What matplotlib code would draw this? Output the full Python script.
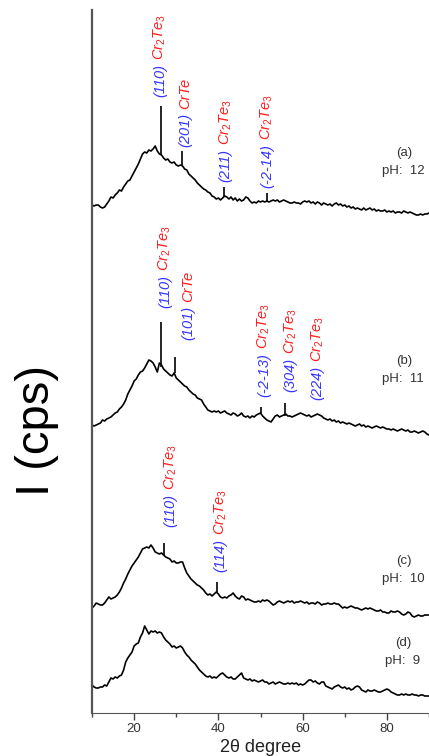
import numpy as np
import matplotlib
matplotlib.use('Agg')
import matplotlib.pyplot as plt
from matplotlib.ticker import MultipleLocator

plt.rcParams['font.family'] = ['Liberation Sans', 'DejaVu Sans']
plt.rcParams['mathtext.fontset'] = 'custom'
plt.rcParams['mathtext.it'] = 'Liberation Sans:italic'
plt.rcParams['mathtext.rm'] = 'Liberation Sans'

# shared 2theta sampling (degrees), 0.5 deg step
two_theta = np.arange(10.0, 90.01, 0.5)

# (a) pH 12
cps_a = [11, 10, 11, 11, 9, 8, 9, 12, 15, 19, 18, 21, 23, 26, 25, 29, 32, 35, 36, 40,
         44, 48, 52, 57, 62, 64, 63, 66, 65, 67, 70, 65, 62, 61, 58, 56, 57, 54, 53, 54,
         51, 50, 51, 50, 47, 46, 42, 40, 38, 36, 33, 31, 29, 27, 26, 24, 23, 20, 19, 17,
         18, 16, 18, 20, 19, 17, 19, 16, 18, 15, 17, 15, 16, 19, 18, 15, 13, 14, 13, 15,
         14, 15, 14, 15, 14, 15, 16, 15, 16, 14, 15, 16, 15, 14, 13, 13, 14, 13, 13, 12,
         14, 15, 14, 15, 13, 14, 12, 14, 13, 11, 13, 12, 11, 12, 10, 12, 13, 11, 12, 10,
         11, 9, 10, 8, 9, 7, 8, 7, 6, 8, 6, 7, 8, 6, 7, 5, 6, 5, 5, 6,
         4, 5, 4, 5, 3, 4, 4, 3, 5, 4, 3, 4, 3, 2, 1, 1, 2, 1, 2, 2, 3]

# (b) pH 11
cps_b = [10, 9, 10, 11, 12, 15, 14, 16, 17, 18, 20, 22, 23, 26, 28, 31, 35, 41, 45, 49,
         54, 56, 60, 63, 64, 67, 71, 75, 74, 72, 68, 63, 72, 70, 66, 64, 62, 60, 59, 62,
         57, 55, 53, 51, 49, 48, 45, 43, 41, 40, 37, 36, 35, 31, 28, 25, 24, 23, 24, 23,
         24, 22, 23, 24, 22, 21, 20, 22, 21, 19, 20, 22, 19, 18, 19, 17, 19, 18, 20, 21,
         22, 19, 17, 15, 14, 13, 16, 19, 20, 18, 19, 20, 21, 19, 19, 18, 19, 20, 21, 22,
         21, 20, 19, 20, 18, 19, 20, 21, 20, 19, 17, 16, 15, 16, 14, 15, 13, 14, 12, 13,
         12, 11, 12, 11, 10, 9, 10, 11, 9, 10, 8, 9, 8, 7, 8, 9, 8, 7, 8, 7,
         6, 6, 5, 6, 5, 4, 5, 6, 5, 4, 5, 3, 3, 4, 3, 2, 3, 4, 3, 1, 0]

# (c) pH 10
cps_c = [12, 14, 17, 16, 15, 15, 17, 20, 23, 21, 22, 23, 25, 28, 32, 37, 41, 46, 50, 54,
         57, 60, 63, 67, 71, 72, 73, 72, 75, 72, 68, 67, 66, 67, 65, 63, 62, 61, 58, 59,
         57, 57, 58, 58, 52, 47, 44, 41, 39, 37, 35, 34, 32, 30, 27, 25, 26, 24, 26, 28,
         26, 23, 22, 23, 22, 24, 25, 27, 24, 22, 21, 24, 23, 20, 21, 20, 19, 18, 18, 19,
         18, 20, 19, 20, 19, 17, 15, 16, 18, 19, 18, 17, 18, 19, 18, 19, 17, 18, 18, 19,
         18, 17, 18, 16, 17, 17, 16, 18, 17, 15, 16, 16, 17, 16, 16, 17, 16, 16, 14, 12,
         13, 12, 13, 14, 13, 12, 12, 11, 10, 11, 12, 11, 12, 11, 10, 9, 9, 10, 8, 8,
         7, 7, 9, 8, 8, 9, 8, 6, 5, 6, 8, 7, 4, 3, 4, 5, 4, 4, 5, 5, 5]

# (d) pH 9
cps_d = [15, 13, 12, 12, 13, 13, 15, 14, 18, 22, 21, 23, 22, 24, 25, 30, 38, 42, 45, 48,
         54, 56, 57, 63, 67, 74, 70, 66, 69, 68, 69, 67, 68, 67, 63, 60, 58, 56, 53, 54,
         52, 53, 54, 52, 48, 45, 43, 40, 38, 36, 33, 30, 28, 26, 24, 23, 24, 22, 23, 22,
         24, 26, 27, 25, 23, 22, 23, 21, 21, 23, 25, 27, 22, 21, 20, 21, 19, 20, 19, 18,
         19, 20, 18, 18, 16, 17, 18, 16, 17, 18, 17, 16, 16, 17, 16, 17, 16, 17, 15, 16,
         15, 16, 18, 20, 20, 18, 19, 17, 16, 18, 18, 14, 13, 12, 11, 13, 14, 15, 13, 12,
         13, 11, 12, 10, 11, 13, 14, 13, 10, 9, 8, 10, 9, 9, 10, 9, 8, 8, 9, 10,
         11, 10, 8, 7, 6, 5, 5, 6, 5, 6, 5, 5, 6, 5, 5, 4, 5, 5, 4, 4, 4]

series = [cps_a, cps_b, cps_c, cps_d]
offsets = [497, 278, 93, 13]
sample_ids = ['(a)', '(b)', '(c)', '(d)']
ph_labels = ['pH:  12', 'pH:  11', 'pH:  10', 'pH:  9']

# sharp reflections: (2theta, foot, top) per pattern
peaks_x = [[26.4, 31.4, 41.4, 51.6], [26.4, 29.8, 50.0, 55.8], [27.1, 39.6], []]
peaks_foot = [[61, 51, 19, 15], [68, 62, 22, 19], [65, 28], []]
peaks_top = [[110, 65, 29, 23], [113, 78, 28, 32], [77, 38], []]

# reflection labels: hkl, phase, label x (deg), label bottom (in pattern units)
hkl = [['(110)', '(201)', '(211)', '(-2-14)'],
       ['(110)', '(101)', '(-2-13)', '(304)', '(224)'],
       ['(110)', '(114)'], []]
phase = [[r'$Cr_2Te_3$', 'CrTe', r'$Cr_2Te_3$', r'$Cr_2Te_3$'],
         [r'$Cr_2Te_3$', 'CrTe', r'$Cr_2Te_3$', r'$Cr_2Te_3$', r'$Cr_2Te_3$'],
         [r'$Cr_2Te_3$', r'$Cr_2Te_3$'], []]
lab_x = [[26.2, 32.1, 41.7, 51.6], [27.4, 32.9, 50.8, 57.1, 63.5], [28.6, 40.5], []]
lab_y = [[616, 566, 531, 525], [405, 373, 316, 321, 313], [186, 141], []]

for i, s in enumerate(series):
    assert len(s) == len(two_theta), (i, len(s))

BLUE = '#3535ff'
RED = '#ff1c1c'
GREY = '#333333'

fig = plt.figure(figsize=(4.29, 7.56), dpi=100)
ax = fig.add_axes([92 / 429, 43 / 756, 337 / 429, 703 / 756])

for i, s in enumerate(series):
    off = offsets[i]
    ax.plot(two_theta, np.array(s) + off, color='black', lw=1.2)
    if peaks_x[i]:
        ax.vlines(peaks_x[i], np.array(peaks_foot[i]) + off, np.array(peaks_top[i]) + off,
                  color='black', lw=1.2)
    for h, p, lx, ly in zip(hkl[i], phase[i], lab_x[i], lab_y[i]):
        t = ax.text(lx, ly, h, rotation=90, ha='center', va='bottom',
                    color=BLUE, fontsize=10.5, style='italic')
        ax.annotate(p, xy=(0.5, 1.0), xycoords=t,
                    xytext=(0, 3), textcoords='offset points',
                    rotation=90, ha='center', va='bottom', color=RED, fontsize=10.5,
                    style='italic')

label_y = [560, 352, 152, 70]
for i in range(4):
    ax.text(84.0, label_y[i], sample_ids[i], ha='center', va='center',
            color=GREY, fontsize=9.5)
    ax.text(83.8, label_y[i] - 18, ph_labels[i], ha='center', va='center',
            color=GREY, fontsize=9.5)

ax.set_xlim(10, 90)
ax.set_ylim(0, 703)
ax.xaxis.set_major_locator(MultipleLocator(20))
ax.xaxis.set_minor_locator(MultipleLocator(10))
ax.tick_params(axis='x', which='major', direction='out', length=5, width=1,
               color='#444444', labelsize=9.5, labelcolor=GREY, pad=2)
ax.tick_params(axis='x', which='minor', direction='out', length=3, width=1,
               color='#444444')
ax.set_yticks([])
for side in ['top', 'right']:
    ax.spines[side].set_visible(False)
ax.spines['left'].set_color('#555555')
ax.spines['left'].set_linewidth(1.6)
ax.spines['bottom'].set_color('#555555')
ax.spines['bottom'].set_linewidth(0.8)

ax.set_xlabel('2θ degree', fontsize=13, color='#222222', labelpad=3)
fig.text(37 / 429, 1 - 431 / 756, 'I (cps)', rotation=90, ha='center', va='center',
         fontsize=34, color='black')

fig.savefig('out.png', dpi=100)
